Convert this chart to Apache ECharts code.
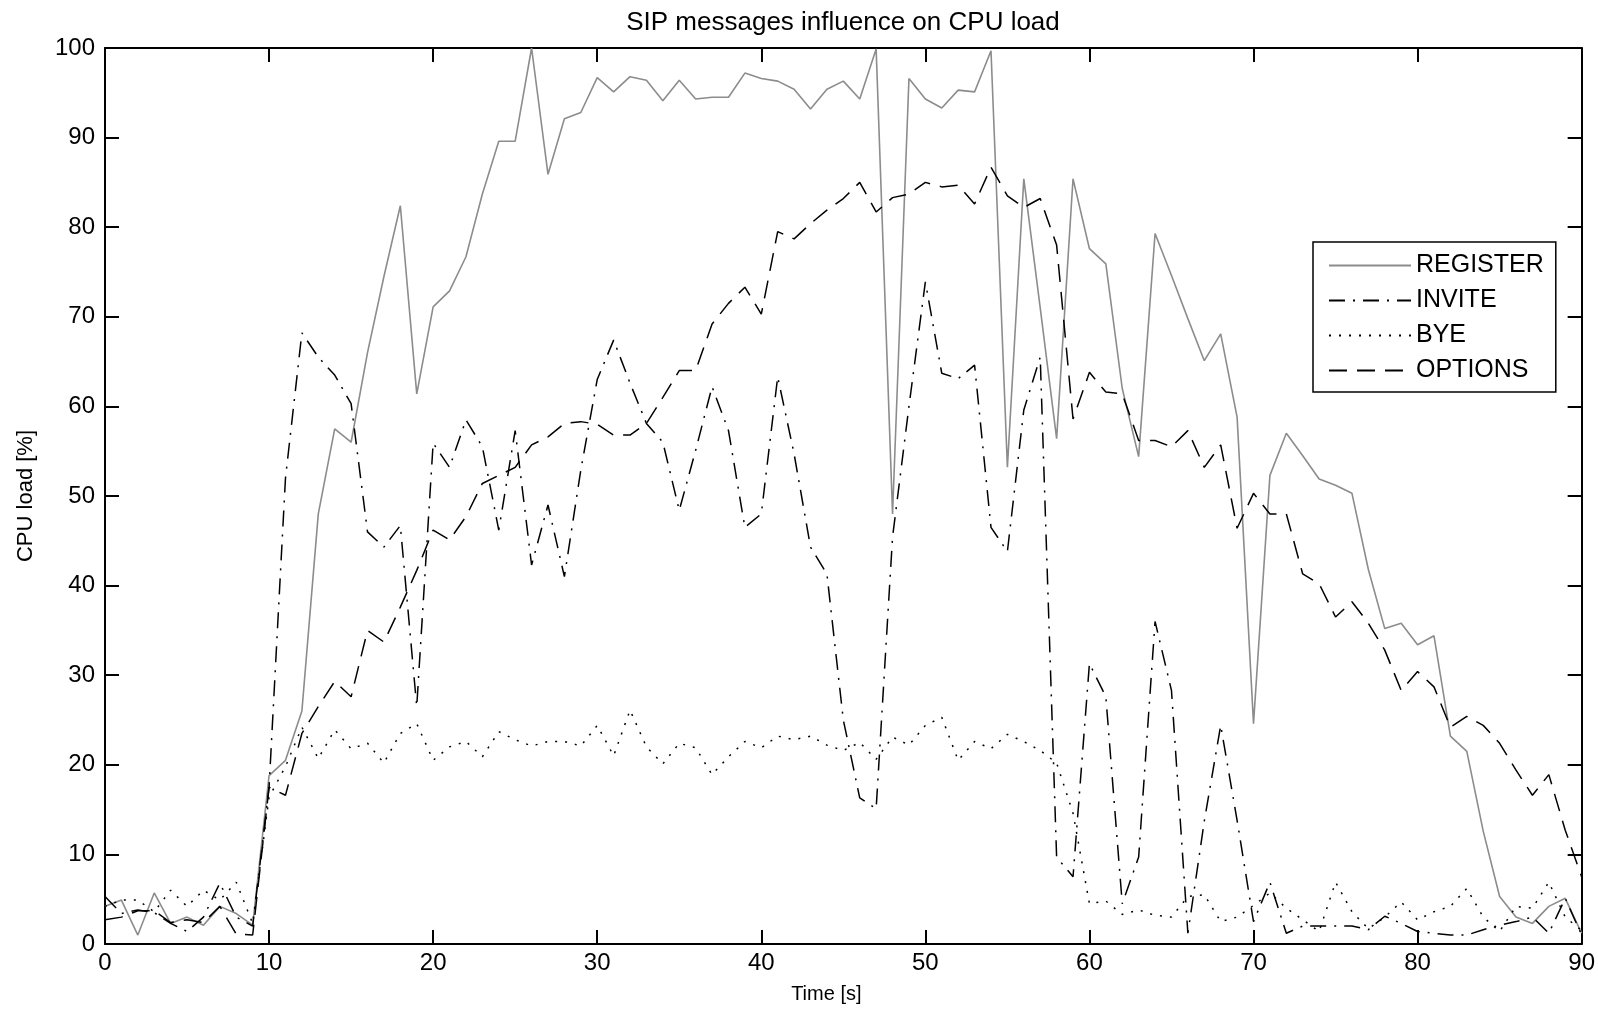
<!DOCTYPE html>
<html>
<head>
<meta charset="utf-8">
<title>SIP messages influence on CPU load</title>
<script src="https://cdn.jsdelivr.net/npm/echarts@6/dist/echarts.min.js"></script>
<style>
  html, body { margin: 0; padding: 0; background: #fff; }
  #chart { width: 1598px; height: 1010px; }
</style>
</head>
<body>
<div id="chart"></div>
<script>
// CPU load [%], one sample per second from t = 0 to t = 90
var register = [
  4.2, 4.9, 1.0, 5.7, 2.3, 3.0, 2.1, 4.2, 3.4, 2.1,
  18.8, 20.5, 26, 48, 57.5, 56, 66, 74.5, 82.4, 61.4,
  71.1, 72.9, 76.7, 83.7, 89.6, 89.6, 100, 85.9, 92.1, 92.8,
  96.7, 95.1, 96.8, 96.4, 94.1, 96.4, 94.3, 94.5, 94.5, 97.2,
  96.6, 96.3, 95.4, 93.2, 95.4, 96.3, 94.3, 99.9, 48.0, 96.6,
  94.3, 93.3, 95.3, 95.1, 99.7, 53.2, 85.4, 71, 56.4, 85.4,
  77.6, 75.9, 62, 54.4, 79.3, 74.6, 69.8, 65.1, 68.1, 58.8,
  24.6, 52.3, 57.0, 54.5, 51.9, 51.2, 50.3, 41.8, 35.2, 35.8,
  33.4, 34.4, 23.2, 21.5, 12.6, 5.3, 3.0, 2.3, 4.2, 5.1,
  1.2
];
var invite = [
  5.3, 3.4, 3.8, 3.5, 2.3, 1.4, 3.0, 6.8, 3.0, 2.0,
  17.5, 52, 68.2, 65.5, 63.5, 60.3, 46.0, 44.3, 46.7, 26.5,
  55.9, 53.2, 58.5, 55.5, 46.2, 57.3, 42.3, 49.0, 41.0, 52.9,
  63, 67.4, 62.6, 58.1, 56, 48.4, 55.1, 62.2, 57.3, 46.5,
  48.0, 63.3, 54.7, 44.3, 41.3, 25, 16.3, 15.1, 45.4, 60,
  73.9, 63.7, 63.1, 64.6, 46.5, 43.8, 59.6, 65.5, 9.7, 7.5,
  31.3, 27.6, 4.5, 9.7, 36, 28.3, 1.2, 13.7, 24.4, 13.8,
  2.5, 6.9, 1.2, 2.0, 2.0, 2.0, 2.0, 1.6, 3.1, 2.3,
  1.4, 1.2, 1.0, 1.0, 1.6, 2.1, 2.5, 3.0, 1.2, 5.1,
  1.0
];
var bye = [
  4.2, 4.9, 4.9, 3.6, 6.0, 4.2, 6.0, 4.9, 6.9, 2.3,
  16.4, 19.8, 24.2, 20.7, 23.9, 21.8, 22.4, 20.2, 23.5, 24.6,
  20.5, 22.0, 22.6, 20.9, 23.7, 22.8, 22.1, 22.6, 22.6, 22.1,
  24.4, 21.0, 26.1, 22.0, 20.1, 22.4, 21.9, 18.9, 20.9, 22.6,
  21.9, 23.2, 22.8, 23.2, 22.2, 21.6, 22.5, 20.6, 23.1, 22.2,
  24.4, 25.3, 20.5, 22.6, 21.8, 23.4, 22.6, 21.6, 20.2, 14.6,
  4.5, 4.8, 3.3, 3.8, 3.2, 3.0, 5.3, 5.5, 2.5, 3.0,
  4.3, 5.7, 4.0, 2.7, 1.4, 6.9, 3.6, 1.7, 3.0, 4.7,
  2.7, 3.6, 4.2, 6.2, 3.0, 1.4, 4.2, 4.0, 6.9, 3.0,
  1.5
];
var options = [
  2.7, 3.0, 3.7, 3.7, 2.4, 2.7, 2.4, 4.2, 1.1, 1.0,
  17.5, 16.6, 23.5, 26.5, 29.3, 27.6, 35.0, 33.7, 37.6, 41.7,
  46.2, 45.1, 47.7, 51.4, 52.3, 53.2, 55.7, 56.6, 58.1, 58.3,
  58.0, 56.8, 56.8, 58.1, 61.0, 64.0, 64.0, 69.2, 71.5, 73.3,
  70.3, 79.5, 78.7, 80.4, 81.9, 83.2, 85.0, 81.7, 83.3, 83.7,
  85.0, 84.5, 84.7, 82.6, 86.7, 83.5, 82.2, 83.2, 78, 58.6,
  63.8, 61.6, 61.4, 56.2, 56.2, 55.5, 57.3, 53.2, 55.7, 46.4,
  50.3, 48.0, 48.0, 41.3, 40.2, 36.5, 38.2, 35.8, 32.8, 28.3,
  30.4, 28.7, 24.2, 25.4, 24.4, 22.4, 19.4, 16.6, 18.9, 12.7,
  7.5
];
var seriesNames = ["REGISTER", "INVITE", "BYE", "OPTIONS"];

var font = "Liberation Sans, Arial, sans-serif";

// pair each value with its second on the time axis
function withTime(values) {
  return values.map(function(v, i) {
    return [i, v];
  });
}

function boxAxis(extra) {
  var base = {
    type: "value",
    splitLine: { show: false },
    axisLine: { show: true, onZero: false, lineStyle: { color: "#000", width: 2 } },
    axisTick: { show: true, inside: true, length: 14, lineStyle: { color: "#000", width: 2 } },
    axisLabel: { color: "#000", fontSize: 24, fontFamily: font }
  };
  return Object.assign(base, extra);
}

var chart = echarts.init(document.getElementById("chart"));

var option = {
  backgroundColor: "#fff",
  animation: false,
  title: {
    text: "SIP messages influence on CPU load",
    left: 838,
    textAlign: "center",
    top: 5,
    textStyle: { color: "#000", fontSize: 26, fontWeight: "normal", fontFamily: font }
  },
  grid: { left: 105, top: 48, width: 1479, height: 896 },
  legend: {
    orient: "vertical",
    left: 1313,
    top: 242,
    padding: [11, 12, 9, 15],
    itemWidth: 82,
    itemHeight: 14,
    itemGap: 10,
    backgroundColor: "#fff",
    borderColor: "#000",
    borderWidth: 1.5,
    borderRadius: 0,
    itemStyle: { opacity: 0 },
    textStyle: { color: "#000", fontSize: 25, lineHeight: 25, fontFamily: font },
    data: seriesNames
  },
  xAxis: [
    boxAxis({
      min: 0, max: 90, interval: 10,
      name: "Time [s]",
      nameLocation: "middle",
      nameGap: 40,
      nameTextStyle: { color: "#000", fontSize: 20, fontFamily: font, padding: [0, 34, 0, 0] },
      axisLabel: { color: "#000", fontSize: 24, fontFamily: font, margin: 7 }
    }),
    boxAxis({ position: "top", min: 0, max: 90, interval: 10, axisLabel: { show: false } })
  ],
  yAxis: [
    boxAxis({
      min: 0, max: 100, interval: 10,
      name: "CPU load [%]",
      nameLocation: "middle",
      nameRotate: 90,
      nameGap: 68,
      nameTextStyle: { color: "#000", fontSize: 22, fontFamily: font },
      axisLabel: { color: "#000", fontSize: 24, fontFamily: font, margin: 10 }
    }),
    boxAxis({ position: "right", min: 0, max: 100, interval: 10, axisLabel: { show: false } })
  ],
  series: [
    {
      name: "REGISTER", type: "line", symbol: "none",
      data: withTime(register),
      itemStyle: { color: "#8c8c8c" },
      lineStyle: { color: "#8c8c8c", width: 1.6, type: "solid" }
    },
    {
      name: "INVITE", type: "line", symbol: "none",
      data: withTime(invite),
      itemStyle: { color: "#000" },
      lineStyle: { color: "#000", width: 1.5, type: [16, 8, 2, 8] }
    },
    {
      name: "BYE", type: "line", symbol: "none",
      data: withTime(bye),
      itemStyle: { color: "#000" },
      lineStyle: { color: "#000", width: 1.5, type: [2, 8] }
    },
    {
      name: "OPTIONS", type: "line", symbol: "none",
      data: withTime(options),
      itemStyle: { color: "#000" },
      lineStyle: { color: "#000", width: 1.5, type: [18, 10] }
    }
  ]
};

chart.setOption(option);
</script>
</body>
</html>
